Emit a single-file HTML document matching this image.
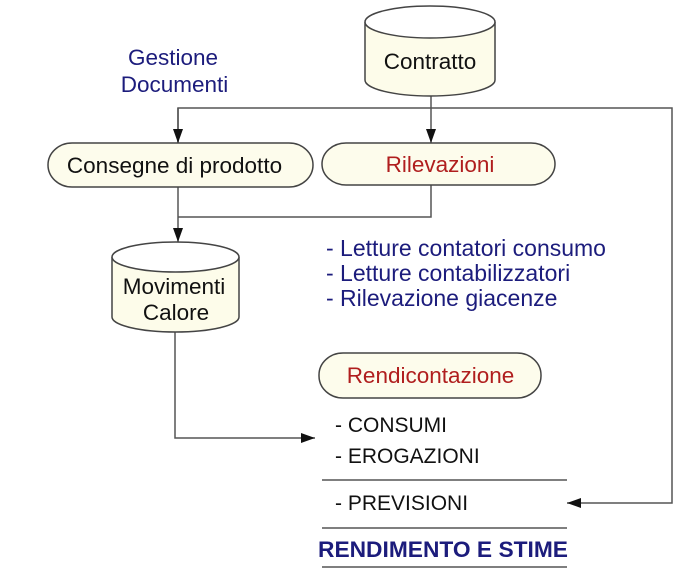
<!DOCTYPE html>
<html><head><meta charset="utf-8"><style>
html,body{margin:0;padding:0;background:#fff;}
svg{display:block;}
text{font-family:"Liberation Sans",Arial,sans-serif;}
</style></head><body>
<svg width="700" height="571" viewBox="0 0 700 571" xmlns="http://www.w3.org/2000/svg">
<defs>
<marker id="ah2" markerWidth="14" markerHeight="10" refX="14" refY="5" orient="auto" markerUnits="userSpaceOnUse">
<path d="M0,0 L14,5 L0,10 z" fill="#111"/>
</marker>
</defs>
<g stroke="#555" stroke-width="1.5" fill="none">
<line x1="431" y1="96" x2="431" y2="143" marker-end="url(#ah2)"/>
<polyline points="178,143 178,108 672,108 672,503 567,503" marker-end="url(#ah2)"/>
<line x1="178" y1="108" x2="178" y2="143" marker-end="url(#ah2)"/>
<polyline points="431,185 431,217 178,217"/>
<line x1="178" y1="187" x2="178" y2="242" marker-end="url(#ah2)"/>
<polyline points="175,332 175,438 315,438" marker-end="url(#ah2)"/>
<line x1="322" y1="480" x2="567" y2="480"/>
<line x1="322" y1="528" x2="567" y2="528"/>
<line x1="322" y1="567" x2="567" y2="567"/>
</g>
<g stroke="#444" stroke-width="1.5">
<path d="M365,22 L365,80 A65,16 0 0 0 495,80 L495,22" fill="#fdfcea"/>
<ellipse cx="430" cy="22" rx="65" ry="16" fill="#fff"/>
</g>
<g stroke="#444" stroke-width="1.5">
<path d="M112,257 L112,317 A63.5,15 0 0 0 239,317 L239,257" fill="#fdfcea"/>
<ellipse cx="175.5" cy="257" rx="63.5" ry="15" fill="#fff"/>
</g>
<g stroke="#444" stroke-width="1.5" fill="#fdfcec">
<rect x="48" y="143" width="265" height="44" rx="24" ry="22"/>
<rect x="322" y="143" width="233" height="42" rx="24" ry="21"/>
<rect x="319" y="353" width="222" height="45" rx="24" ry="22"/>
</g>
<g font-size="22.5" fill="#111">
<text x="430" y="69" text-anchor="middle">Contratto</text>
<text x="174.5" y="173" text-anchor="middle">Consegne di prodotto</text>
<text x="174" y="294" text-anchor="middle">Movimenti</text>
<text x="176" y="320" text-anchor="middle">Calore</text>
</g>
<g font-size="22.5" fill="#b01e1e">
<text x="440" y="172" text-anchor="middle">Rilevazioni</text>
<text x="430.5" y="383" text-anchor="middle">Rendicontazione</text>
</g>
<g font-size="22.5" fill="#1c1c7c">
<text x="173" y="65" text-anchor="middle">Gestione</text>
<text x="174.5" y="92" text-anchor="middle">Documenti</text>
</g>
<g font-size="23" fill="#1c1c7c">
<text x="326" y="256">- Letture contatori consumo</text>
<text x="326" y="281">- Letture contabilizzatori</text>
<text x="326" y="306">- Rilevazione giacenze</text>
</g>
<g font-size="21" fill="#111">
<text x="335" y="432">- CONSUMI</text>
<text x="335" y="463">- EROGAZIONI</text>
<text x="335" y="510">- PREVISIONI</text>
</g>
<text x="318" y="557" font-size="22.5" font-weight="bold" fill="#1c1c7c" textLength="250" lengthAdjust="spacingAndGlyphs">RENDIMENTO E STIME</text>
</svg>
</body></html>
